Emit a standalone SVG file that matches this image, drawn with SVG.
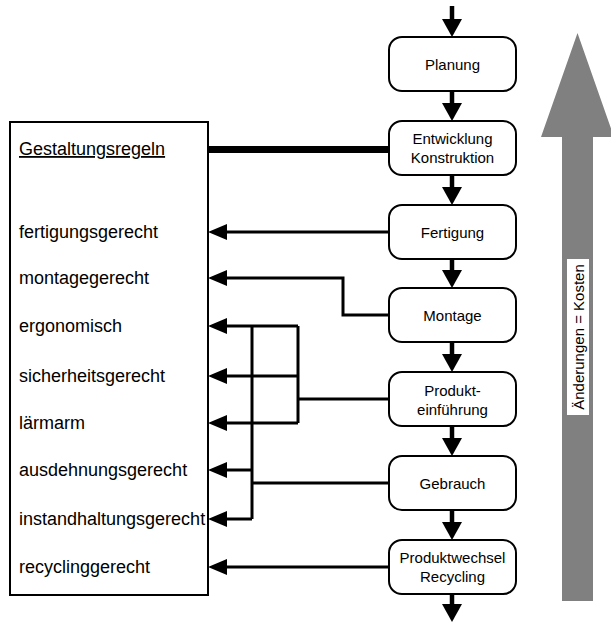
<svg xmlns="http://www.w3.org/2000/svg" width="611" height="625" viewBox="0 0 611 625">
<style>
.node rect{fill:#fff;stroke:#000;stroke-width:2}
.ntxt{font-family:"Liberation Sans",Arial,sans-serif;font-size:15px;text-anchor:middle;fill:#000}
.ltxt{font-family:"Liberation Sans",Arial,sans-serif;font-size:18px;fill:#000}
.conn path{fill:none;stroke:#000;stroke-width:3}
.conn path.down{stroke-width:4.5}
</style>
<defs>
<marker id="al" markerUnits="userSpaceOnUse" markerWidth="19" markerHeight="16" viewBox="0 0 19 16" refX="0" refY="8" orient="auto"><path d="M0,0 L19,8 L0,16 z" fill="#000"/></marker>
<marker id="ad" markerUnits="userSpaceOnUse" markerWidth="18" markerHeight="20" viewBox="0 0 18 20" refX="0" refY="10" orient="auto"><path d="M0,0 L18,10 L0,20 z" fill="#000"/></marker>
</defs>
<rect width="611" height="625" fill="#fff"/>
<g id="kostenpfeil">
<path d="M562,601 L593,601 L593,137 L614,137 L577.5,33 L541,137 L562,137 Z" fill="#808080"/>
<rect x="567" y="259" width="22" height="156" fill="#fff"/>
<text class="ntxt" transform="translate(583.5,337) rotate(-90)" x="0" y="0">Änderungen = Kosten</text>
</g>
<g id="regeln">
<rect x="10" y="122" width="198" height="473" fill="#fff" stroke="#000" stroke-width="2"/>
<text class="ltxt" x="19" y="155" text-decoration="underline">Gestaltungsregeln</text>
<text class="ltxt" x="19" y="238">fertigungsgerecht</text>
<text class="ltxt" x="19" y="284">montagegerecht</text>
<text class="ltxt" x="19" y="332">ergonomisch</text>
<text class="ltxt" x="19" y="382">sicherheitsgerecht</text>
<text class="ltxt" x="19" y="429">lärmarm</text>
<text class="ltxt" x="19" y="476">ausdehnungsgerecht</text>
<text class="ltxt" x="19" y="525">instandhaltungsgerecht</text>
<text class="ltxt" x="19" y="573">recyclinggerecht</text>
</g>
<g class="conn" id="connectors">
<path class="down" d="M452,6 V19" marker-end="url(#ad)"/>
<path class="down" d="M452,91 V103" marker-end="url(#ad)"/>
<path class="down" d="M452,175 V187" marker-end="url(#ad)"/>
<path class="down" d="M452,259 V270" marker-end="url(#ad)"/>
<path class="down" d="M452,342 V354" marker-end="url(#ad)"/>
<path class="down" d="M452,426 V438" marker-end="url(#ad)"/>
<path class="down" d="M452,510 V522" marker-end="url(#ad)"/>
<path class="down" d="M452,594 V604" marker-end="url(#ad)"/>
<path d="M209,149.5 H389" style="stroke-width:7"/>
<path d="M389,232 H227" marker-end="url(#al)"/>
<path d="M389,315 H343 V278 H227" marker-end="url(#al)"/>
<path d="M389,399 H298"/>
<path d="M298,326 V423"/>
<path d="M298,326 H227" marker-end="url(#al)"/>
<path d="M298,376 H227" marker-end="url(#al)"/>
<path d="M298,423 H227" marker-end="url(#al)"/>
<path d="M389,483 H252"/>
<path d="M252,326 V519"/>
<path d="M252,470 H227" marker-end="url(#al)"/>
<path d="M252,519 H227" marker-end="url(#al)"/>
<path d="M389,567 H227" marker-end="url(#al)"/>
</g>
<g class="node" id="planung"><rect x="389" y="37" width="127" height="54" rx="13"/><text class="ntxt" x="452.5" y="70">Planung</text></g>
<g class="node" id="entwicklung"><rect x="389" y="121" width="127" height="54" rx="13"/><text class="ntxt" x="452.5" y="144">Entwicklung</text><text class="ntxt" x="452.5" y="163">Konstruktion</text></g>
<g class="node" id="fertigung"><rect x="389" y="205" width="127" height="54" rx="13"/><text class="ntxt" x="452.5" y="238">Fertigung</text></g>
<g class="node" id="montage"><rect x="389" y="288" width="127" height="54" rx="13"/><text class="ntxt" x="452.5" y="321">Montage</text></g>
<g class="node" id="produkteinfuehrung"><rect x="389" y="372" width="127" height="54" rx="13"/><text class="ntxt" x="452.5" y="396">Produkt-</text><text class="ntxt" x="452.5" y="415">einführung</text></g>
<g class="node" id="gebrauch"><rect x="389" y="456" width="127" height="54" rx="13"/><text class="ntxt" x="452.5" y="489">Gebrauch</text></g>
<g class="node" id="produktwechsel"><rect x="389" y="540" width="127" height="54" rx="13"/><text class="ntxt" x="452.5" y="563">Produktwechsel</text><text class="ntxt" x="452.5" y="582">Recycling</text></g>
</svg>
